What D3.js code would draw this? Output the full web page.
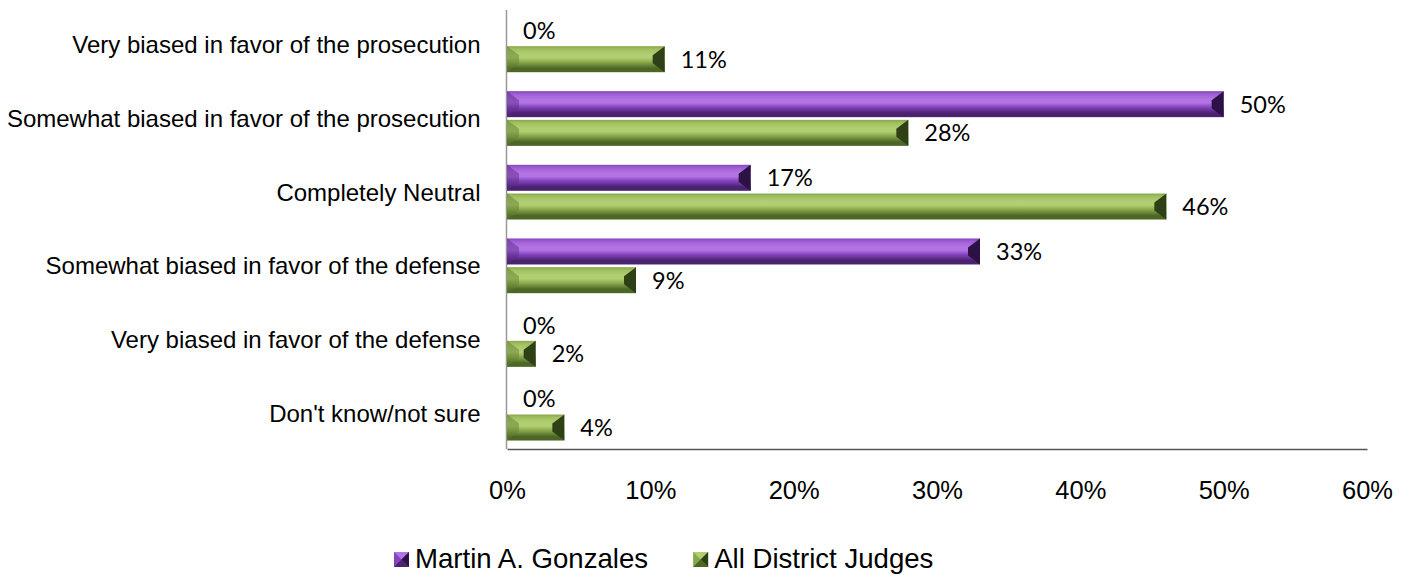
<!DOCTYPE html>
<html><head><meta charset="utf-8">
<script src="https://cdn.jsdelivr.net/npm/d3@7"></script>
<style>body{margin:0;background:#fff}svg{display:block}</style>
</head><body>
<svg id="chart" width="1411" height="575"></svg>
<script>
const categories = ["Very biased in favor of the prosecution","Somewhat biased in favor of the prosecution","Completely Neutral","Somewhat biased in favor of the defense","Very biased in favor of the defense","Don't know/not sure"];
const seriesNames = ["Martin A. Gonzales","All District Judges"];
const gonzalesValues = [0,50,17,33,0,0];
const allJudgesValues = [11,28,46,9,2,4];
const xTicks = [0,10,20,30,40,50,60];

const seriesValues = [gonzalesValues, allJudgesValues];
const palette = [
  {light:"#b273e4", mid:"#8444bd", dark:"#4a2270", cap:"#2c1244", capL:"#5d2c8a", top:"#a060d4"},
  {light:"#b2ce72", mid:"#87a84a", dark:"#4c6626", cap:"#2f4016", capL:"#62802f", top:"#a2c062"}
];

const svg = d3.select("#chart");
const defs = svg.append("defs");
palette.forEach((p,i)=>{
  const g = defs.append("linearGradient").attr("id","g"+i).attr("x1",0).attr("y1",0).attr("x2",0).attr("y2",1);
  [[0,p.mid],[0.12,p.top],[0.32,p.light],[0.45,p.light],[0.62,p.mid],[0.85,p.dark],[1,p.dark]].forEach(s=>
    g.append("stop").attr("offset",s[0]).attr("stop-color",s[1]));
});

const x = d3.scaleLinear().domain([0,60]).range([507,1367]);
const y0 = d3.scaleBand().domain(categories).range([8,450]).padding(0);
const y1 = d3.scaleBand().domain(seriesNames).range([0,y0.bandwidth()]).paddingInner(0.094).paddingOuter(0.33);

// axes
const xAxis = d3.axisBottom(x).tickValues(xTicks).tickSize(0).tickPadding(0).tickFormat(d=>d+"%");
const gx = svg.append("g").attr("transform","translate(0,449)").call(xAxis);
gx.select(".domain").attr("stroke","#555").attr("stroke-width",1.5);
gx.selectAll("text").attr("font-family","'Liberation Sans', Arial, sans-serif").attr("font-size","25.5px").attr("fill","#000").attr("dy",0).attr("y",50);

const yAxis = d3.axisLeft(y0).tickSize(0).tickPadding(26);
const gy = svg.append("g").attr("transform","translate(506.5,0)").call(yAxis);
gy.select(".domain").attr("stroke","#999").attr("stroke-width",1.5).attr("d","M0,10V449");
gy.selectAll("text").attr("font-family","'Liberation Sans', Arial, sans-serif").attr("font-size","24px").attr("fill","#000").attr("dy","0.35em");

// bars
const data = [];
categories.forEach((c,ci)=>seriesNames.forEach((s,si)=>data.push({c, s, si, v: seriesValues[si][ci]})));

const bars = svg.append("g").selectAll("g.bar").data(data).join("g").attr("class","bar");
bars.each(function(d){
  const g = d3.select(this);
  const yy = y0(d.c) + y1(d.s), h = y1.bandwidth();
  const xa = x(0), xb = x(d.v), w = xb - xa;
  const p = palette[d.si];
  if (w > 0.5) {
    g.append("rect").attr("x",xa).attr("y",yy).attr("width",w).attr("height",h).attr("fill","url(#g"+d.si+")");
    const b = Math.min(12, w/2), bv = Math.min(9, h/2);
    // left cap
    g.append("polygon").attr("points",[[xa,yy],[xa+b,yy+bv],[xa+b,yy+h-bv],[xa,yy+h]].join(" ")).attr("fill",p.capL).attr("opacity",0.5);
    // right cap
    g.append("polygon").attr("points",[[xb,yy],[xb-b,yy+bv],[xb-b,yy+h-bv],[xb,yy+h]].join(" ")).attr("fill",p.cap);
  }
  g.append("text").attr("x",xb+16).attr("y",yy+h/2).attr("dy","0.36em")
    .attr("font-family","Lato, 'Open Sans', sans-serif").attr("font-size","23.5px").attr("fill","#000")
    .text(d.v+"%");
});

// legend
const leg = svg.append("g");
let lx = 394;
seriesNames.forEach((s,i)=>{
  const p = palette[i];
  const g = leg.append("g");
  const sx = lx, sy = 552, sw = 15;
  g.append("rect").attr("x",sx).attr("y",sy).attr("width",sw).attr("height",sw).attr("fill",p.mid);
  g.append("polygon").attr("points",[[sx,sy],[sx+sw,sy],[sx+sw/2,sy+sw/2]].join(" ")).attr("fill",p.light);
  g.append("polygon").attr("points",[[sx,sy+sw],[sx+sw,sy+sw],[sx+sw/2,sy+sw/2]].join(" ")).attr("fill",p.dark);
  g.append("polygon").attr("points",[[sx+sw,sy],[sx+sw,sy+sw],[sx+sw/2,sy+sw/2]].join(" ")).attr("fill",p.cap);
  const t = g.append("text").attr("x",sx+21).attr("y",568).attr("font-family","'Liberation Sans', Arial, sans-serif")
    .attr("font-size","27.6px").attr("fill","#000").text(s);
  lx = sx + 21 + t.node().getComputedTextLength() + 45;
});
</script>
</body></html>
